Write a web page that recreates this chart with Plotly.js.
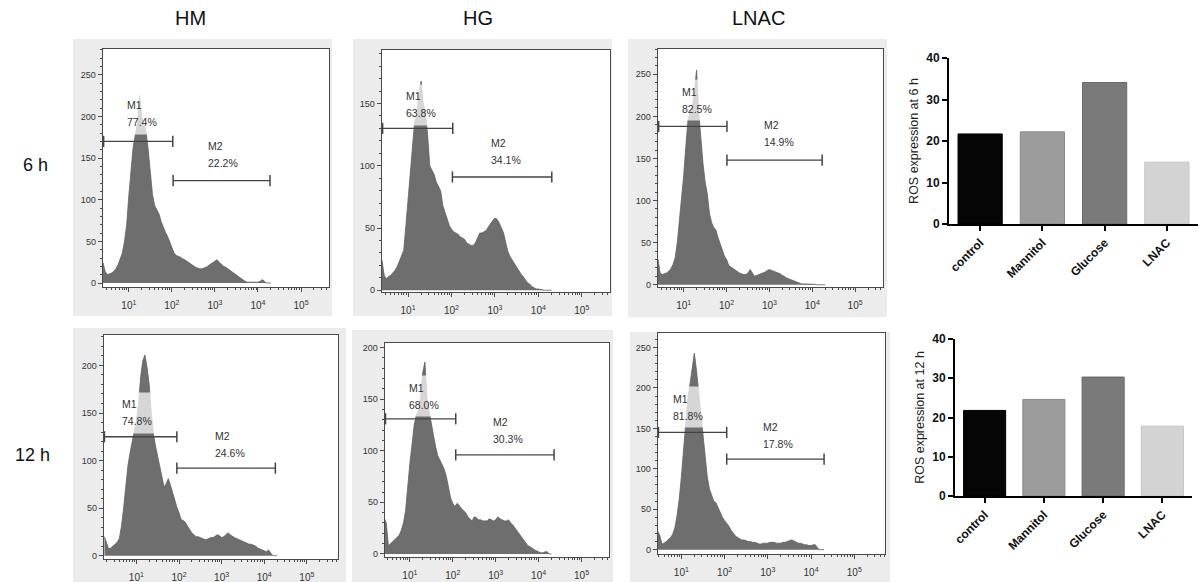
<!DOCTYPE html>
<html>
<head>
<meta charset="utf-8">
<script src="https://cdn.plot.ly/plotly-3.0.1.min.js"></script>
<style>html,body{margin:0;padding:0;background:#fff;}#chart{width:1202px;height:582px;}</style>
</head>
<body>
<div id="chart"></div>
<script>
// ---------- DATA ----------
// histogram bin positions (log10 of fluorescence)
const binExp = [0.25,0.30,0.35,0.40,0.45,0.50,0.55,0.60,0.65,0.70,0.75,0.80,0.85,0.90,0.95,1.00,1.05,1.10,1.15,1.20,1.25,1.30,1.35,1.40,1.45,1.50,1.55,1.60,1.65,1.70,1.75,1.80,1.85,1.90,1.95,2.00,2.05,2.10,2.15,2.20,2.25,2.30,2.35,2.40,2.45,2.50,2.55,2.60,2.65,2.70,2.75,2.80,2.85,2.90,2.95,3.00,3.05,3.10,3.15,3.20,3.25,3.30,3.35,3.40,3.45,3.50,3.55,3.60,3.65,3.70,3.75,3.80,3.85,3.90,3.95,4.00,4.05,4.10,4.15,4.20,4.25,4.30];

const countsHM6h = [0,0,0,24,14,10,11,12,14,17, 22,28,36,50,70,105,138,163,178,192, 225,200,190,182,160,130,106,93,87,83, 74,67,61,56,50,42,36,33,32,31, 29,28,26,24,22,21,19,18,17,17, 18,19,21,23,25,27,28,25,22,20, 19,17,15,13,11,9,7,5,4,2, 1,1,1,1,1,1,2,4,2,0, 0,0];
const countsHG6h = [0,0,0,24,12,9,11,12,14,16, 19,23,27,32,52,72,94,118,135,142, 158,168,150,142,125,100,97,93,87,84, 80,68,63,58,52,49,47,46,45,43, 42,41,38,37,36,36,38,42,46,46, 47,48,51,54,56,58,57,54,50,46, 38,31,27,24,21,19,16,13,11,8, 6,5,3,2,1,1,0.5,0,0,0, 0,0];
const countsLNAC6h = [0,0,0,30,14,12,13,14,16,19, 24,32,50,75,105,130,165,196,205,210, 230,255,205,170,144,122,108,85,74,68, 65,56,48,40,34,30,23,21,19,17, 15,14,13,12,12,14,18,14,10,11, 12,13,14,15,17,18,17,16,15,14, 13,11,10,8,7,6,5,4,3,2, 1,1,1,1,1,1,0.5,0,0,0, 0,0];
const countsHM12h = [20,14,7,8,10,12,14,18,31,50, 72,94,108,120,130,142,160,188,205,211, 198,180,150,128,115,104,92,84,72,76, 81,74,66,59,51,45,38,37,35,31, 27,24,22,20,20,19,18,17,17,18, 19,19,21,22,21,19,20,22,24,22, 20,19,18,17,16,15,14,13,12,12, 11,10,8,7,6,5,4,6,3,0, 0,0];
const countsHG12h = [0,0,0,35,30,8,10,12,14,16, 18,23,30,42,68,88,106,125,135,139, 152,176,186,150,138,128,115,104,95,91, 87,82,75,65,54,49,46,49,47,44, 42,40,36,34,32,36,35,33,33,32, 32,32,34,33,32,33,36,34,33,32, 32,33,30,28,25,22,19,16,14,11, 8,7,5,4,3,2,1,1,2,2, 0,0];
const countsLNAC12h = [0,0,0,0,23,18,7,8,10,12, 15,19,27,42,62,90,125,160,188,205, 225,243,222,196,165,138,111,90,75,66, 60,58,52,45,40,36,33,29,24,20, 17,15,13,12,12,11,10,10,9,9, 8,7,7,8,8,8,9,9,9,8, 8,8,9,9,10,11,12,11,9,8, 8,7,6,6,5,5,6,6,2,0, 0,0];

const groupNames = ['HM', 'HG', 'LNAC'];
const timeNames = ['6 h', '12 h'];
const m1Percent = ['77.4%', '63.8%', '82.5%', '74.8%', '68.0%', '81.8%'];
const m2Percent = ['22.2%', '34.1%', '14.9%', '24.6%', '30.3%', '17.8%'];
// gate markers: start / end on fluorescence axis, level on count axis
const m1Start = [2.6, 2.6, 2.6, 1.78, 2.7, 2.95];
const m1End   = [105, 107, 102, 89, 117, 112];
const m1Level = [170, 130, 188, 125, 131, 145];
const m2Start = [107, 105, 102, 89, 117, 112];
const m2End   = [19000, 20400, 17000, 18200, 22900, 20000];
const m2Level = [123, 91, 148, 92, 96, 112];

const barCategories = ['control', 'Mannitol', 'Glucose', 'LNAC'];
const ros6h  = [21.7, 22.2, 34.1, 14.9];
const ros12h = [21.8, 24.6, 30.3, 17.8];

// ---------- LAYOUT / STYLE ----------
const W = 1202, H = 582;
const fx = p => p / W;
const fy = p => 1 - p / H;

const panelBoxes = [ // [left, right, top, bottom] in px
  [73, 332, 39, 316], [353, 612, 39, 316], [628, 887, 39, 317],
  [73, 346, 328, 582], [352, 613, 330, 582], [630, 890, 332, 582]
];
const histLayout = [
  {px:[103,329], py:[49,287], xr:[0.40,5.65], yr:[-4.8,281], lab1:[0.84,203], lab2:[2.73,154.5]},
  {px:[382,610], py:[50,292], xr:[0.40,5.65], yr:[-1.4,193], lab1:[0.83,149], lab2:[2.79,111.5]},
  {px:[658,883], py:[49,287], xr:[0.40,5.65], yr:[-2.7,280], lab1:[0.84,219], lab2:[2.76,180]},
  {px:[104,338], py:[335,559], xr:[0.24,5.73], yr:[-3.5,232], lab1:[0.54,150.5], lab2:[2.73,117]},
  {px:[385,609], py:[343,557], xr:[0.42,5.64], yr:[-3,204.5], lab1:[0.87,153], lab2:[2.83,119.5]},
  {px:[658,885], py:[333,554], xr:[0.46,5.71], yr:[-5.4,268], lab1:[0.68,176], lab2:[2.78,141]}
];
const countSets = [countsHM6h, countsHG6h, countsLNAC6h, countsHM12h, countsHG12h, countsLNAC12h];

const FONT = 'Arial, "Liberation Sans", sans-serif';
const AX = '#4a4a4a';
const hx = binExp.map(e => Math.pow(10, e));

const traces = [];
const layout = {
  width: W, height: H,
  margin: {l: 0, r: 0, t: 0, b: 0},
  paper_bgcolor: '#ffffff', plot_bgcolor: '#ffffff',
  showlegend: false,
  font: {family: FONT, color: '#222'},
  bargap: 0.29,
  shapes: [], annotations: []
};

panelBoxes.forEach(b => {
  layout.shapes.push({type:'rect', xref:'paper', yref:'paper', layer:'below',
    x0: fx(b[0]), x1: fx(b[1]), y0: fy(b[3]), y1: fy(b[2]),
    fillcolor:'#ececec', line:{width:0}});
});

const labFont = {size:10.5, color:'#333', family:FONT};
function addLabel(xid, yid, pos, name, pct, withBox) {
  if (withBox) {
    layout.annotations.push({xref:xid, yref:yid, x:pos[0], y:pos[1], xanchor:'left', yanchor:'middle',
      showarrow:false, text:' ', width:36, height:40, borderpad:0,
      bgcolor:'rgba(255,255,255,0.72)', font:labFont});
  }
  layout.annotations.push({xref:xid, yref:yid, x:pos[0], y:pos[1], xanchor:'left', yanchor:'middle',
    xshift:3, yshift:8.5, showarrow:false, text:name, font:labFont});
  layout.annotations.push({xref:xid, yref:yid, x:pos[0], y:pos[1], xanchor:'left', yanchor:'middle',
    xshift:3, yshift:-8.5, showarrow:false, text:pct, font:labFont});
}

histLayout.forEach((h, i) => {
  const n = i + 1;
  const xid = n === 1 ? 'x' : 'x' + n;
  const yid = n === 1 ? 'y' : 'y' + n;
  const xa = n === 1 ? 'xaxis' : 'xaxis' + n;
  const ya = n === 1 ? 'yaxis' : 'yaxis' + n;

  layout.shapes.push({type:'rect', xref:'paper', yref:'paper', layer:'below',
    x0: fx(h.px[0]), x1: fx(h.px[1]), y0: fy(h.py[1]), y1: fy(h.py[0]),
    fillcolor:'#ffffff', line:{width:0}});

  layout[xa] = {
    type:'log', domain:[fx(h.px[0]), fx(h.px[1])], range:h.xr, anchor:yid,
    showline:true, mirror:true, linecolor:AX, linewidth:1.3,
    ticks:'outside', ticklen:4, tickwidth:1, tickcolor:AX,
    tickmode:'array', tickvals:[10, 100, 1000, 10000, 100000],
    ticktext:['10<sup>1</sup>','10<sup>2</sup>','10<sup>3</sup>','10<sup>4</sup>','10<sup>5</sup>'],
    tickfont:{size:10, color:'#333', family:FONT},
    ticklabelstandoff:5,
    minor:{tickmode:'linear', dtick:'D1', ticks:'outside', ticklen:2, tickcolor:AX, tickwidth:1},
    showgrid:false, zeroline:false, fixedrange:true
  };
  layout[ya] = {
    domain:[fy(h.py[1]), fy(h.py[0])], range:h.yr, anchor:xid,
    showline:true, mirror:true, linecolor:AX, linewidth:1.3,
    ticks:'outside', ticklen:4, tickwidth:1, tickcolor:AX,
    tick0:0, dtick:50,
    minor:{tick0:0, dtick:10, ticks:'outside', ticklen:2, tickcolor:AX, tickwidth:1},
    tickfont:{size:9, color:'#333', family:FONT},
    showgrid:false, zeroline:false, fixedrange:true
  };

  traces.push({type:'scatter', mode:'lines', x:hx, y:countSets[i], fill:'tozeroy',
    fillcolor:'#6e6e6e', line:{color:'#616161', width:0.8},
    xaxis:xid, yaxis:yid, hoverinfo:'skip'});

  traces.push({type:'scatter', mode:'lines+markers', x:[m1Start[i], m1End[i]], y:[m1Level[i], m1Level[i]],
    line:{color:'#444', width:1.3}, marker:{symbol:'line-ns-open', size:8, line:{color:'#444', width:1.5}},
    cliponaxis:false, xaxis:xid, yaxis:yid, hoverinfo:'skip'});
  traces.push({type:'scatter', mode:'lines+markers', x:[m2Start[i], m2End[i]], y:[m2Level[i], m2Level[i]],
    line:{color:'#444', width:1.3}, marker:{symbol:'line-ns-open', size:8, line:{color:'#444', width:1.5}},
    cliponaxis:false, xaxis:xid, yaxis:yid, hoverinfo:'skip'});

  addLabel(xid, yid, h.lab1, 'M1', m1Percent[i], true);
  addLabel(xid, yid, h.lab2, 'M2', m2Percent[i], false);
});

// column and row headings
const colCenters = [190, 478, 758];
groupNames.forEach((g, k) => layout.annotations.push({xref:'paper', yref:'paper', x:fx(colCenters[k]), y:fy(18),
  xanchor:'center', yanchor:'middle', showarrow:false, text:g, font:{size:20, color:'#111', family:FONT}}));
const rowCenters = [[35,165],[32,455]];
timeNames.forEach((t, k) => layout.annotations.push({xref:'paper', yref:'paper', x:fx(rowCenters[k][0]), y:fy(rowCenters[k][1]),
  xanchor:'center', yanchor:'middle', showarrow:false, text:t, font:{size:18, color:'#111', family:FONT}}));

// bar charts
const barColors = ['#050505', '#9c9c9c', '#7a7a7a', '#d3d3d3'];
const barLines  = ['#000000', '#8a8a8a', '#686868', '#c4c4c4'];
const barBoxes = [
  {px:[949,1198], py:[58,224], title:'ROS expression at 6 h', vals:ros6h},
  {px:[955,1192], py:[339,496], title:'ROS expression at 12 h', vals:ros12h}
];
barBoxes.forEach((b, k) => {
  const n = 7 + k;
  traces.push({type:'bar', x:barCategories, y:b.vals, xaxis:'x'+n, yaxis:'y'+n,
    marker:{color:barColors, line:{color:barLines, width:1}}, hoverinfo:'skip'});
  layout['xaxis'+n] = {domain:[fx(b.px[0]), fx(b.px[1])], anchor:'y'+n, type:'category', range:[-0.5, 3.5],
    showline:true, linecolor:'#000', linewidth:2, ticks:'outside', ticklen:5, tickwidth:2, tickcolor:'#000',
    tickangle:-45,
    tickfont:{size:12, color:'#111', family:FONT, weight:'bold'},
    showgrid:false, zeroline:false, fixedrange:true};
  layout['yaxis'+n] = {domain:[fy(b.py[1]), fy(b.py[0])], anchor:'x'+n, range:[0, 40], tick0:0, dtick:10,
    showline:true, linecolor:'#000', linewidth:2, ticks:'outside', ticklen:5, tickwidth:2, tickcolor:'#000',
    tickfont:{size:12, color:'#111', family:FONT, weight:'bold'},
    title:{text:b.title, font:{size:12.5, color:'#222', family:FONT}, standoff:5},
    showgrid:false, zeroline:false, fixedrange:true};
});

Plotly.newPlot('chart', traces, layout, {displayModeBar:false, staticPlot:true});
</script>
</body>
</html>
